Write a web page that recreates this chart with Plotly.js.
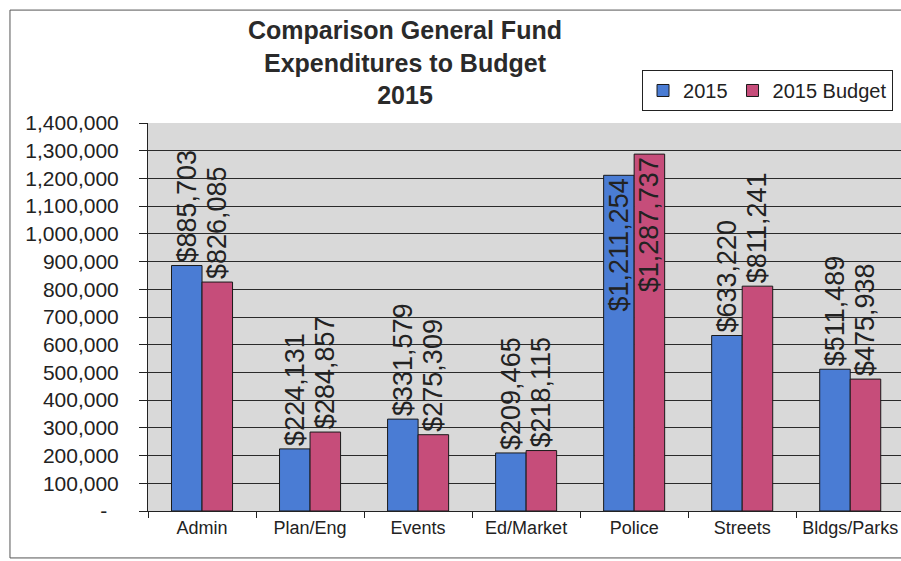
<!DOCTYPE html>
<html>
<head>
<meta charset="utf-8">
<script src="https://cdn.plot.ly/plotly-3.0.1.min.js"></script>
<style>html,body{margin:0;padding:0;background:#fff;}#chart{width:901px;height:561px;}</style>
</head>
<body>
<div id="chart"></div>
<script>
var categories = ["Admin", "Plan/Eng", "Events", "Ed/Market", "Police", "Streets", "Bldgs/Parks"];
var actual2015 = [885703, 224131, 331579, 209465, 1211254, 633220, 511489];
var budget2015 = [826085, 284857, 275309, 218115, 1287737, 811241, 475938];
var yTickVals = [0, 100000, 200000, 300000, 400000, 500000, 600000, 700000, 800000, 900000, 1000000, 1100000, 1200000, 1300000, 1400000];
var yTickText = ["-\u00a0\u00a0", "100,000", "200,000", "300,000", "400,000", "500,000", "600,000", "700,000", "800,000", "900,000", "1,000,000", "1,100,000", "1,200,000", "1,300,000", "1,400,000"];

function positions(vals) {
  return vals.map(function (v) { return v > 1100000 ? "inside" : "outside"; });
}

var labelFont = {family: "Liberation Sans, Arial, sans-serif", size: 27, color: "#222"};

var traces = [
  {
    type: "bar", name: "2015", x: categories, y: actual2015,
    marker: {color: "#4a7cd4", line: {color: "#1a1a1a", width: 1}},
    texttemplate: "$%{y:,.0f}", textposition: positions(actual2015),
    textangle: -90, insidetextanchor: "end", constraintext: "none",
    textfont: labelFont, insidetextfont: labelFont, outsidetextfont: labelFont,
    cliponaxis: false, hoverinfo: "skip"
  },
  {
    type: "bar", name: "2015 Budget", x: categories, y: budget2015,
    marker: {color: "#c64d7a", line: {color: "#1a1a1a", width: 1}},
    texttemplate: "$%{y:,.0f}", textposition: positions(budget2015),
    textangle: -90, insidetextanchor: "end", constraintext: "none",
    textfont: labelFont, insidetextfont: labelFont, outsidetextfont: labelFont,
    cliponaxis: false, hoverinfo: "skip"
  }
];

var layout = {
  width: 901, height: 561,
  margin: {l: 148, r: 0, t: 123, b: 50},
  paper_bgcolor: "#ffffff",
  plot_bgcolor: "#d9d9d9",
  font: {family: "Liberation Sans, Arial, sans-serif", color: "#222"},
  title: {
    text: "<b>Comparison General Fund<br>Expenditures to Budget<br>2015</b>",
    font: {size: 25, color: "#2a2a2a", family: "Liberation Sans, Arial, sans-serif"},
    x: 0.4495, xref: "container", xanchor: "center",
    y: 0.93, yref: "container", yanchor: "top"
  },
  barmode: "group",
  bargap: 0.435,
  bargroupgap: 0,
  showlegend: true,
  legend: {
    orientation: "h", x: 0.9894, xanchor: "right", y: 1.1366, yanchor: "top",
    bgcolor: "#ffffff", bordercolor: "#222", borderwidth: 1,
    font: {size: 20, color: "#222"}, traceorder: "normal"
  },
  xaxis: {
    type: "category", range: [-0.5, 6.47],
    tickson: "boundaries", ticks: "outside", ticklen: 6, tickcolor: "#222",
    showline: true, linecolor: "#222", linewidth: 1,
    showgrid: false, tickfont: {size: 18, color: "#222"}, fixedrange: true
  },
  yaxis: {
    range: [0, 1400000], tickvals: yTickVals, ticktext: yTickText,
    ticks: "outside", ticklen: 8, tickcolor: "#222",
    ticklabelstandoff: 16,
    showline: true, linecolor: "#222", linewidth: 1,
    showgrid: true, gridcolor: "#2a2a2a", gridwidth: 1,
    zeroline: false, tickfont: {size: 21, color: "#222"}, fixedrange: true
  },
  shapes: [
    {type: "rect", xref: "paper", yref: "paper",
     x0: -0.1833, x1: 1.01, y0: -0.121, y1: 1.291,
     line: {color: "#555", width: 1}, fillcolor: "rgba(0,0,0,0)", layer: "below"}
  ]
};

Plotly.newPlot("chart", traces, layout, {displayModeBar: false, staticPlot: true});
</script>
</body>
</html>
